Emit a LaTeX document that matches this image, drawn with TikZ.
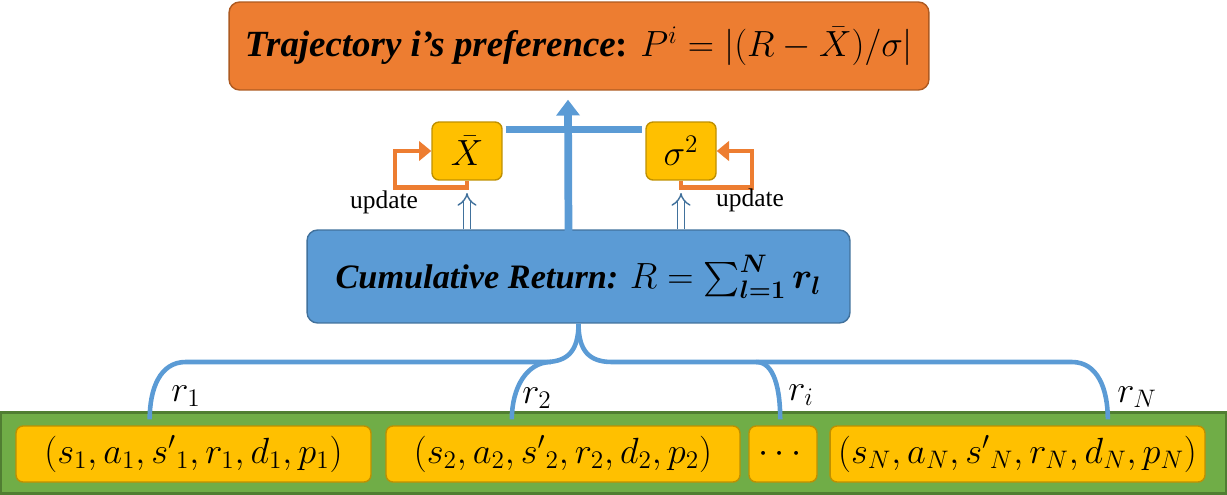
\documentclass[tikz,border=0pt]{standalone}
\usepackage{amsmath,amssymb}
\usepackage{fontspec}
\setmainfont{Liberation Serif}
\usepackage{tikz}
\usetikzlibrary{arrows.meta,positioning,calc}
\definecolor{prefOrange}{RGB}{237,125,49}
\definecolor{prefOrangeDk}{RGB}{174,90,33}
\definecolor{statYellow}{RGB}{255,192,0}
\definecolor{statYellowDk}{RGB}{191,144,0}
\definecolor{retBlue}{RGB}{91,155,213}
\definecolor{retBlueDk}{RGB}{65,113,156}
\definecolor{bufGreen}{RGB}{112,173,71}
\definecolor{bufGreenDk}{RGB}{80,126,50}

\begin{document}
\begin{tikzpicture}[x=0.02cm,y=-0.02cm,
      box/.style={rounded corners=4pt,draw,line width=0.8pt,inner sep=0pt,align=center},
      titlebox/.style={box,rounded corners=6pt,fill=prefOrange,draw=prefOrangeDk,
                  minimum width=14cm,minimum height=1.76cm,font=\fontsize{21}{24}\selectfont},
      retbox/.style={box,rounded corners=6pt,fill=retBlue,draw=retBlueDk,
                  minimum width=10.86cm,minimum height=1.86cm,font=\fontsize{19.5}{23}\selectfont},
      statbox/.style={box,fill=statYellow,draw=statYellowDk,minimum width=1.4cm,
                  minimum height=1.16cm,font=\fontsize{22}{26}\selectfont},
      tuplebox/.style={box,fill=statYellow,draw=statYellowDk,minimum height=1.12cm,
                  font=\fontsize{20}{24}\selectfont},
      link/.style={draw=retBlue,line width=2.6pt},
      arr/.style={draw=retBlue,line width=4.4pt,-{Triangle[length=9pt,width=13pt]}},
      hollow/.style={draw=retBlueDk,double=white,double distance=3pt,line width=0.8pt,
                  -{Implies},shorten >=7pt},
      upd/.style={draw=prefOrange,line width=2.6pt,-{Triangle[length=7pt,width=11pt]}},
      lab/.style={font=\fontsize{22}{26}\selectfont,inner sep=0pt}]
      \useasboundingbox (0,0) rectangle (1227,494);

      % replay buffer
      \node[draw=bufGreenDk,fill=bufGreen,line width=1.2pt,minimum width=24.5cm,
            minimum height=1.62cm] (buffer) at (613.5,453) {};
      \node[tuplebox,minimum width=7.1cm]  (t1) at (193.5,454) {$(s_1,a_1,{s'}_1,r_1,d_1,p_1)$};
      \node[tuplebox,minimum width=7.08cm] (t2) at (563,454)   {$(s_2,a_2,{s'}_2,r_2,d_2,p_2)$};
      \node[tuplebox,minimum width=1.36cm] (t3) at (783,454)   {$\cdots$};
      \node[tuplebox,minimum width=7.5cm]  (t4) at (1017.5,454) {$(s_N,a_N,{s'}_N,r_N,d_N,p_N)$};

      % return and statistics
      \node[retbox]   (ret)   at (578.5,276.5) {\textbf{\textit{Cumulative Return:}}
            $R=\textstyle\sum_{\boldsymbol{l=1}}^{\boldsymbol{N}}\boldsymbol{r_l}$};
      \node[statbox]  (xbar)  at (467,151) {$\bar{X}$};
      \node[statbox]  (sig)   at (681,151) {$\sigma^2$};
      \node[titlebox] (pref)  at (579,46)  {\textbf{\textit{Trajectory i’s preference}}\textbf{:}
            $P^i=|(R-\bar{X})/\sigma|$};

      % brace of rewards
      \coordinate (jl) at (545,362);
      \coordinate (jr) at (612,362);
      \coordinate (b1) at ($(t1.north west)!.377!(t1.north east)+(0,-6)$);
      \coordinate (b2) at ($(t2.north west)!.356!(t2.north east)+(0,-6)$);
      \coordinate (b3) at ($(t3.north west)!.46!(t3.north east)+(0,-6)$);
      \coordinate (b4) at ($(t4.north west)!.74!(t4.north east)+(0,-6)$);
      \draw[link] (ret.south) .. controls +(0,28) and +(22,0) .. (jl)
            -- ($(b1 |- jl)+(36,0)$) .. controls +(-26,0) and +(0,-30) .. (b1);
      \draw[link] ($(jl)+(6,0)$) .. controls +(-24,0) and +(0,-32) .. (b2);
      \draw[link] (ret.south) .. controls +(0,28) and +(-22,0) .. (jr)
            -- ($(b4 |- jr)+(-36,0)$) .. controls +(26,0) and +(0,-30) .. (b4);
      \draw[link] ($(b3 |- jr)+(-24,0)$) .. controls +(18,0) and +(0,-30) .. (b3);
      \node[lab] (r1) at (186,396) {$r_1$};
      \node[lab] (r2) at (537,398) {$r_2$};
      \node[lab] (ri) at (801,395) {$r_i$};
      \node[lab] (rN) at (1137,397) {$r_N$};

      % statistics feed the preference
      \draw[arr] ($(ret.north)+(-10,10)$) -- ($(pref.south)+(-11,9)$);
      \draw[link,line width=3.6pt] ($(xbar.north east)!.14!(xbar.south east)+(3,0)$)
            -- ($(sig.north west)!.14!(sig.south west)+(-3,0)$);
      \draw[hollow] (ret.north -| xbar.south) -- (xbar.south);
      \draw[hollow] (ret.north -| sig.south) -- (sig.south);

      % running updates
      \draw[upd] (xbar.south) -- ++(0,7) -- ++(-72,0) |- (xbar.west);
      \draw[upd] (sig.south) -- ++(0,7) -- ++(71,0) |- (sig.east);
      \node[font=\fontsize{14.5}{17}\selectfont] (updl) at (384,202) {update};
      \node[font=\fontsize{14.5}{17}\selectfont] (updr) at (750,200) {update};
    \end{tikzpicture}
\end{document}
